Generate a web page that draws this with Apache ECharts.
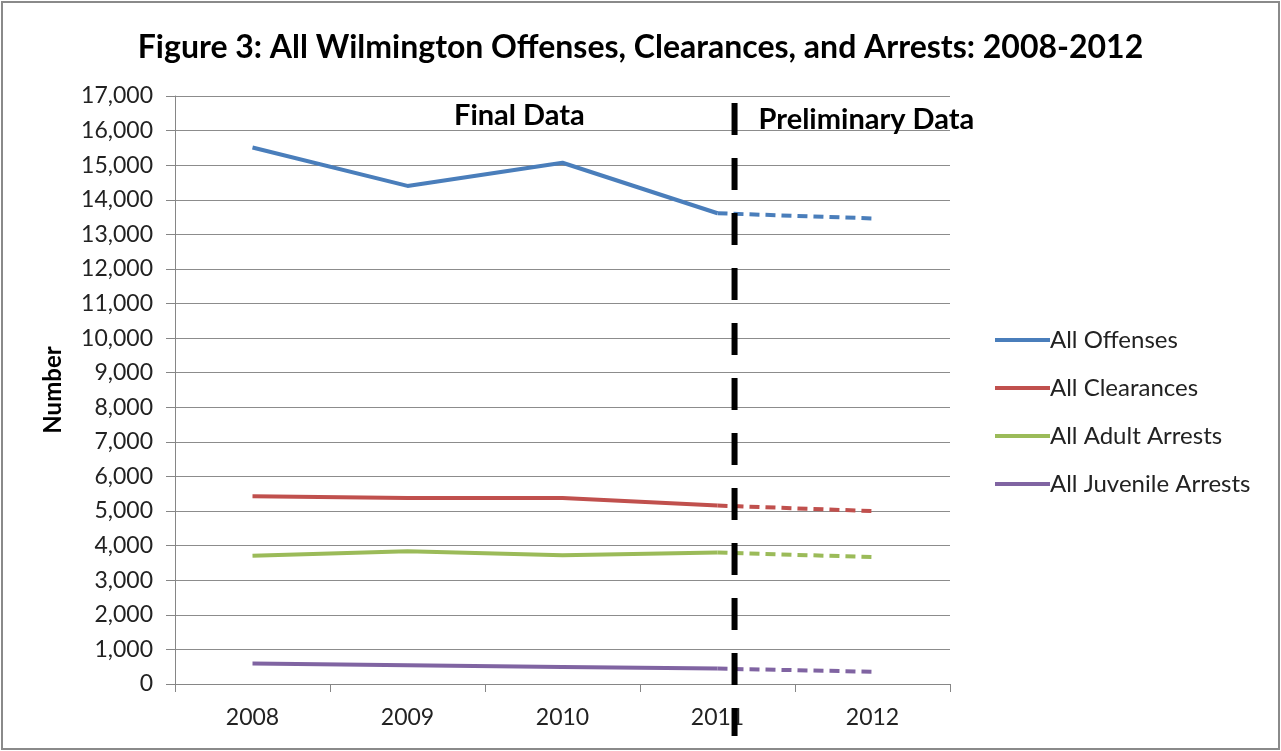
<!DOCTYPE html>
<html>
<head>
<meta charset="utf-8">
<script src="https://cdn.jsdelivr.net/npm/echarts@6/dist/echarts.min.js"></script>
<style>
html,body{margin:0;padding:0;background:#fff;}
#frame{position:absolute;left:1px;top:1px;width:1275px;height:745px;border:2px solid #8a8a8a;}
#chart{position:absolute;left:0;top:0;width:1281px;height:751px;}
</style>
</head>
<body>
<div id="frame"></div>
<div id="chart"></div>
<script>
const years = ['2008', '2009', '2010', '2011', '2012'];
const offenses = [15510, 14400, 15070, 13610, 13460];
const clearances = [5430, 5380, 5380, 5160, 5000];
const adultArrests = [3710, 3840, 3720, 3800, 3670];
const juvenileArrests = [590, 540, 495, 445, 355];
const finalCount = 4; // 2008-2011 final, 2011-2012 preliminary
const seriesNames = ['All Offenses', 'All Clearances', 'All Adult Arrests', 'All Juvenile Arrests'];
const seriesColors = ['#4a7ebb', '#c0504d', '#9bbb59', '#8064a2'];
const yTicks = { min: 0, max: 17000, interval: 1000 };
const dividerPosition = 3.61;      // in category units on a 0..5 scale
const dividerRange = [16800, -1500];
const FONT = 'Lato, Carlito, "Liberation Sans", sans-serif';

const allData = [offenses, clearances, adultArrests, juvenileArrests];
const series = [];
allData.forEach((vals, i) => {
  series.push({
    name: seriesNames[i], type: 'line', data: vals.map((v, k) => k < finalCount ? v : null),
    symbol: 'none', lineStyle: { color: seriesColors[i], width: 4 }, itemStyle: { color: seriesColors[i] },
    z: 3
  });
  series.push({
    name: seriesNames[i] + ' (prelim)', type: 'line', data: vals.map((v, k) => k >= finalCount - 1 ? v : null),
    symbol: 'none', lineStyle: { color: seriesColors[i], width: 4, type: [10, 6] }, itemStyle: { color: seriesColors[i] },
    z: 3
  });
});

const chart = echarts.init(document.getElementById('chart'));
chart.setOption({
  animation: false,
  backgroundColor: 'transparent',
  title: {
    text: 'Figure 3: All Wilmington Offenses, Clearances, and Arrests: 2008-2012',
    left: 'center', top: 27,
    textStyle: { fontFamily: FONT, fontWeight: 'bold', fontSize: 32, color: '#000' }
  },
  legend: {
    data: seriesNames, orient: 'vertical', left: 990, top: 323, itemGap: 24,
    icon: 'rect', itemWidth: 55, itemHeight: 4,
    textStyle: { fontFamily: FONT, fontSize: 24, color: '#222', padding: [0, 0, 0, -5] }
  },
  grid: { left: 175, right: 331, top: 96, bottom: 67 },
  xAxis: [{
    type: 'category', data: years, boundaryGap: true,
    axisLine: { lineStyle: { color: '#868686', width: 1 } },
    axisTick: { show: true, length: 8, lineStyle: { color: '#868686' } },
    axisLabel: { fontFamily: FONT, fontSize: 23, color: '#222', margin: 22 }
  }, {
    type: 'value', min: 0, max: years.length, show: false
  }],
  yAxis: {
    type: 'value', min: yTicks.min, max: yTicks.max, interval: yTicks.interval,
    name: 'Number', nameLocation: 'middle', nameGap: 110, nameRotate: 90,
    nameTextStyle: { fontFamily: FONT, fontWeight: 'bold', fontSize: 24, color: '#000' },
    axisLine: { show: true, lineStyle: { color: '#868686', width: 1 } },
    axisTick: { show: true, length: 9, lineStyle: { color: '#868686' } },
    splitLine: { lineStyle: { color: '#8c8c8c', width: 1.2 } },
    axisLabel: {
      fontFamily: FONT, fontSize: 23, color: '#222', margin: 22,
      formatter: v => v.toLocaleString('en-US')
    }
  },
  series: series
});

function drawOverlay() {
  const x = chart.convertToPixel({ xAxisIndex: 1 }, dividerPosition);
  const y1 = chart.convertToPixel({ yAxisIndex: 0 }, dividerRange[0]);
  const y2 = chart.convertToPixel({ yAxisIndex: 0 }, dividerRange[1]);
  chart.setOption({
    graphic: [
      { type: 'line', shape: { x1: x, y1: y1, x2: x, y2: y2 },
        style: { stroke: '#000', lineWidth: 6, lineDash: [32, 23] }, z: 10 },
      { type: 'text', left: 454, top: 101,
        style: { text: 'Final Data', font: 'bold 29px ' + FONT, fill: '#000' }, z: 10 },
      { type: 'text', left: x + 24, top: 105,
        style: { text: 'Preliminary Data', font: 'bold 29px ' + FONT, fill: '#000' }, z: 10 }
    ]
  });
}
drawOverlay();
</script>
</body>
</html>
